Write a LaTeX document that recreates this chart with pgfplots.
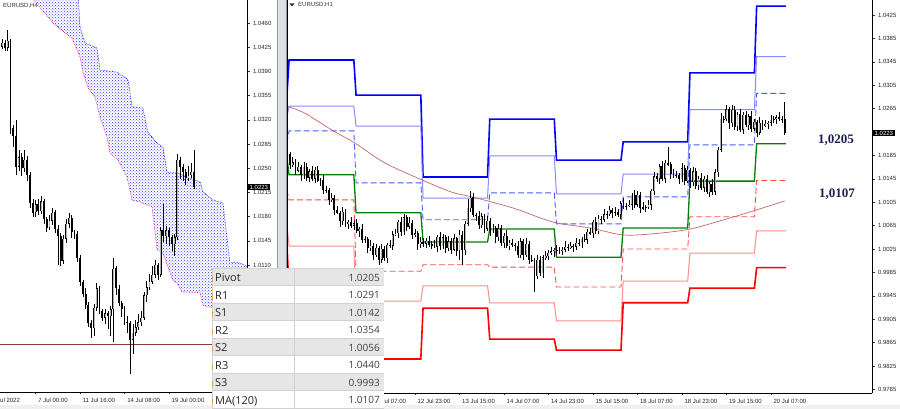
\documentclass[border=0pt]{standalone}
\usepackage{fontspec}
\setmainfont{Liberation Sans}
\newfontfamily\tabfont{Open Sans}
\newfontfamily\lblfont{Liberation Serif}
\usepackage{pgfplots}
\pgfplotsset{compat=1.18}
\usepackage{pgfplotstable}
\usetikzlibrary{patterns}

\definecolor{rthree}{HTML}{0000FF}
\definecolor{rtwo}{HTML}{8A8AFF}
\definecolor{rone}{HTML}{4A5CFF}
\definecolor{pivgreen}{HTML}{008000}
\definecolor{sone}{HTML}{FF4F4F}
\definecolor{stwo}{HTML}{FF8C8C}
\definecolor{sthree}{HTML}{FF0000}
\definecolor{macol}{HTML}{C06A6A}
\definecolor{tabgray}{HTML}{E6E6E6}
\definecolor{tabline}{HTML}{D2D2D2}
\definecolor{navy}{HTML}{1C1C52}
\definecolor{sepbar}{HTML}{DCE1E8}
\definecolor{hline}{HTML}{8B3A3A}
\definecolor{tabmark}{HTML}{D6A85E}

% H4 candles, left panel (x = bar index, 0 = 19 Jul 00:00)
\pgfplotstableread{
x o h l c
-61 1.0430 1.0435 1.0420 1.0426
-60 1.0426 1.0437 1.0422 1.0431
-59 1.0431 1.0436 1.0419 1.0424
-58 1.0424 1.0450 1.0420 1.0434
-57 1.0434 1.0437 1.0300 1.0308
-56 1.0308 1.0312 1.0281 1.0296
-55 1.0296 1.0320 1.0240 1.0252
-54 1.0252 1.0276 1.0246 1.0266
-53 1.0266 1.0272 1.0238 1.0250
-52 1.0250 1.0276 1.0245 1.0262
-51 1.0262 1.0268 1.0232 1.0240
-50 1.0240 1.0244 1.0192 1.0200
-49 1.0200 1.0206 1.0180 1.0186
-48 1.0186 1.0204 1.0180 1.0198
-47 1.0198 1.0206 1.0182 1.0188
-46 1.0188 1.0210 1.0184 1.0202
-45 1.0202 1.0206 1.0170 1.0176
-44 1.0176 1.0180 1.0158 1.0164
-43 1.0164 1.0182 1.0160 1.0174
-42 1.0174 1.0192 1.0168 1.0186
-41 1.0186 1.0190 1.0156 1.0162
-40 1.0162 1.0168 1.0110 1.0152
-39 1.0152 1.0156 1.0108 1.0116
-38 1.0116 1.0154 1.0112 1.0148
-37 1.0148 1.0176 1.0142 1.0170
-36 1.0170 1.0186 1.0164 1.0178
-35 1.0178 1.0182 1.0149 1.0158
-34 1.0158 1.0161 1.0147 1.0155
-33 1.0155 1.0159 1.0115 1.0120
-32 1.0120 1.0124 1.0080 1.0085
-31 1.0085 1.0089 1.0063 1.0068
-30 1.0068 1.0077 1.0047 1.0052
-29 1.0052 1.0056 1.0021 1.0026
-28 1.0026 1.0030 1.0004 1.0019
-27 1.0019 1.0053 1.0007 1.0048
-26 1.0048 1.0084 1.0044 1.0076
-25 1.0076 1.0080 1.0039 1.0044
-24 1.0044 1.0046 1.0029 1.0034
-23 1.0034 1.0046 1.0025 1.0040
-22 1.0040 1.0044 1.0018 1.0036
-21 1.0036 1.0051 1.0008 1.0046
-20 1.0046 1.0120 0.9998 1.0105
-19 1.0105 1.0108 1.0067 1.0076
-18 1.0076 1.0081 1.0050 1.0055
-17 1.0055 1.0058 1.0035 1.0046
-16 1.0046 1.0051 1.0023 1.0028
-15 1.0028 1.0037 1.0012 1.0026
-14 1.0026 1.0029 0.9952 1.0002
-13 1.0002 1.0025 0.9982 1.0012
-12 1.0012 1.0031 1.0008 1.0020
-11 1.0020 1.0039 1.0016 1.0027
-10 1.0027 1.0043 1.0022 1.0034
-9 1.0034 1.0071 1.0030 1.0066
-8 1.0066 1.0087 1.0056 1.0078
-7 1.0078 1.0097 1.0074 1.0086
-6 1.0086 1.0109 1.0082 1.0096
-5 1.0096 1.0117 1.0092 1.0110
-4 1.0110 1.0113 1.0088 1.0096
-3 1.0096 1.0165 1.0092 1.0160
-2 1.0160 1.0199 1.0143 1.0152
-1 1.0152 1.0166 1.0141 1.0160
0 1.0160 1.0164 1.0137 1.0150
1 1.0150 1.0154 1.0131 1.0140
2 1.0140 1.0155 1.0123 1.0150
3 1.0150 1.0271 1.0146 1.0262
4 1.0262 1.0266 1.0235 1.0252
5 1.0252 1.0256 1.0231 1.0244
6 1.0244 1.0249 1.0225 1.0236
7 1.0236 1.0253 1.0232 1.0240
8 1.0240 1.0257 1.0236 1.0245
9 1.0245 1.0276 1.0220 1.0223
}\hfour

% H1 candles, right panel (x = bar index, 0 = 12 Jul 07:00)
\pgfplotstableread{
x o h l c
-30 1.0178 1.0193 1.0173 1.0187
-29 1.0187 1.0191 1.0161 1.0169
-28 1.0169 1.0182 1.0165 1.0173
-27 1.0173 1.0178 1.0152 1.0159
-26 1.0159 1.0173 1.0156 1.0166
-25 1.0166 1.0169 1.0142 1.0151
-24 1.0151 1.0174 1.0145 1.0166
-23 1.0166 1.0172 1.0142 1.0147
-22 1.0147 1.0162 1.0139 1.0158
-21 1.0158 1.0167 1.0141 1.0145
-20 1.0145 1.0165 1.0138 1.0160
-19 1.0160 1.0167 1.0139 1.0142
-18 1.0142 1.0146 1.0133 1.0143
-17 1.0143 1.0151 1.0119 1.0125
-16 1.0125 1.0132 1.0120 1.0126
-15 1.0126 1.0130 1.0101 1.0109
-14 1.0109 1.0121 1.0105 1.0112
-13 1.0112 1.0117 1.0084 1.0091
-12 1.0091 1.0098 1.0084 1.0087
-11 1.0087 1.0090 1.0063 1.0072
-10 1.0072 1.0096 1.0066 1.0088
-9 1.0088 1.0094 1.0063 1.0068
-8 1.0068 1.0075 1.0060 1.0071
-7 1.0071 1.0080 1.0061 1.0065
-6 1.0065 1.0074 1.0058 1.0069
-5 1.0069 1.0076 1.0052 1.0055
-4 1.0055 1.0063 1.0046 1.0060
-3 1.0060 1.0068 1.0035 1.0041
-2 1.0041 1.0048 1.0036 1.0042
-1 1.0042 1.0046 1.0018 1.0026
0 1.0026 1.0040 1.0022 1.0031
1 1.0031 1.0036 1.0007 1.0014
2 1.0014 1.0034 1.0011 1.0027
3 1.0027 1.0030 0.9998 1.0007
4 1.0007 1.0033 1.0001 1.0025
5 1.0025 1.0031 1.0004 1.0009
6 1.0009 1.0036 1.0001 1.0032
7 1.0032 1.0041 1.0027 1.0031
8 1.0031 1.0055 1.0024 1.0050
9 1.0050 1.0059 1.0047 1.0052
10 1.0052 1.0074 1.0043 1.0071
11 1.0071 1.0079 1.0048 1.0054
12 1.0054 1.0085 1.0049 1.0079
13 1.0079 1.0083 1.0055 1.0063
14 1.0063 1.0079 1.0059 1.0070
15 1.0070 1.0075 1.0042 1.0049
16 1.0049 1.0059 1.0046 1.0052
17 1.0052 1.0055 1.0024 1.0033
18 1.0033 1.0045 1.0027 1.0037
19 1.0037 1.0043 1.0029 1.0034
20 1.0034 1.0043 1.0026 1.0039
21 1.0039 1.0048 1.0028 1.0032
22 1.0032 1.0038 1.0025 1.0033
23 1.0033 1.0040 1.0026 1.0029
24 1.0029 1.0049 1.0020 1.0046
25 1.0046 1.0054 1.0024 1.0030
26 1.0030 1.0051 1.0025 1.0045
27 1.0045 1.0049 1.0018 1.0026
28 1.0026 1.0047 1.0022 1.0038
29 1.0038 1.0043 1.0017 1.0024
30 1.0024 1.0050 1.0021 1.0043
31 1.0043 1.0046 1.0013 1.0022
32 1.0022 1.0057 1.0006 1.0049
33 1.0049 1.0055 0.9998 1.0023
34 1.0023 1.0072 1.0015 1.0068
35 1.0068 1.0110 1.0064 1.0095
36 1.0095 1.0125 1.0088 1.0113
37 1.0113 1.0120 1.0080 1.0083
38 1.0083 1.0086 1.0073 1.0082
39 1.0082 1.0090 1.0060 1.0066
40 1.0066 1.0087 1.0061 1.0081
41 1.0081 1.0085 1.0052 1.0060
42 1.0060 1.0082 1.0056 1.0073
43 1.0073 1.0078 1.0048 1.0055
44 1.0055 1.0068 1.0052 1.0061
45 1.0061 1.0064 1.0036 1.0045
46 1.0045 1.0068 1.0039 1.0060
47 1.0060 1.0066 1.0030 1.0035
48 1.0035 1.0052 1.0027 1.0048
49 1.0048 1.0057 1.0026 1.0030
50 1.0030 1.0040 1.0023 1.0035
51 1.0035 1.0042 1.0029 1.0032
52 1.0032 1.0035 1.0022 1.0031
53 1.0031 1.0039 1.0009 1.0015
54 1.0015 1.0044 1.0010 1.0038
55 1.0038 1.0042 1.0007 1.0015
56 1.0015 1.0043 1.0011 1.0034
57 1.0034 1.0039 1.0000 1.0007
58 1.0007 1.0014 1.0003 1.0006
59 1.0006 1.0009 0.9952 0.9979
60 0.9979 1.0015 0.9973 1.0007
61 1.0007 1.0013 0.9979 0.9984
62 0.9984 1.0015 0.9976 1.0011
63 1.0011 1.0022 1.0007 1.0013
64 1.0013 1.0023 1.0006 1.0018
65 1.0018 1.0028 1.0015 1.0021
66 1.0021 1.0027 1.0012 1.0024
67 1.0024 1.0032 1.0015 1.0021
68 1.0021 1.0028 1.0016 1.0022
69 1.0022 1.0028 1.0014 1.0024
70 1.0024 1.0038 1.0020 1.0029
71 1.0029 1.0034 1.0021 1.0028
72 1.0028 1.0037 1.0025 1.0030
73 1.0030 1.0033 1.0020 1.0029
74 1.0029 1.0044 1.0023 1.0036
75 1.0036 1.0042 1.0030 1.0035
76 1.0035 1.0046 1.0027 1.0042
77 1.0042 1.0051 1.0037 1.0041
78 1.0041 1.0059 1.0034 1.0054
79 1.0054 1.0061 1.0049 1.0052
80 1.0052 1.0074 1.0043 1.0071
81 1.0071 1.0079 1.0050 1.0056
82 1.0056 1.0083 1.0051 1.0077
83 1.0077 1.0081 1.0067 1.0075
84 1.0075 1.0093 1.0071 1.0084
85 1.0084 1.0090 1.0077 1.0085
86 1.0085 1.0099 1.0082 1.0092
87 1.0092 1.0095 1.0078 1.0087
88 1.0087 1.0096 1.0081 1.0088
89 1.0088 1.0094 1.0079 1.0084
90 1.0084 1.0107 1.0076 1.0103
91 1.0103 1.0112 1.0094 1.0098
92 1.0098 1.0104 1.0091 1.0099
93 1.0099 1.0108 1.0096 1.0101
94 1.0101 1.0121 1.0092 1.0118
95 1.0118 1.0126 1.0095 1.0101
96 1.0101 1.0124 1.0096 1.0118
97 1.0118 1.0122 1.0087 1.0095
98 1.0095 1.0105 1.0091 1.0096
99 1.0096 1.0101 1.0089 1.0096
100 1.0096 1.0108 1.0093 1.0101
101 1.0101 1.0127 1.0092 1.0124
102 1.0124 1.0157 1.0118 1.0149
103 1.0149 1.0155 1.0140 1.0145
104 1.0145 1.0170 1.0137 1.0166
105 1.0166 1.0175 1.0141 1.0145
106 1.0145 1.0177 1.0138 1.0172
107 1.0172 1.0199 1.0167 1.0170
108 1.0170 1.0173 1.0145 1.0154
109 1.0154 1.0162 1.0146 1.0152
110 1.0152 1.0158 1.0146 1.0151
111 1.0151 1.0155 1.0136 1.0144
112 1.0144 1.0172 1.0140 1.0163
113 1.0163 1.0168 1.0134 1.0141
114 1.0141 1.0167 1.0138 1.0160
115 1.0160 1.0163 1.0130 1.0139
116 1.0139 1.0166 1.0133 1.0158
117 1.0158 1.0164 1.0128 1.0133
118 1.0133 1.0150 1.0125 1.0146
119 1.0146 1.0155 1.0126 1.0130
120 1.0130 1.0150 1.0123 1.0145
121 1.0145 1.0152 1.0119 1.0122
122 1.0122 1.0140 1.0113 1.0137
123 1.0137 1.0145 1.0117 1.0123
124 1.0123 1.0162 1.0118 1.0156
125 1.0156 1.0199 1.0148 1.0195
126 1.0195 1.0257 1.0191 1.0248
127 1.0248 1.0253 1.0240 1.0247
128 1.0247 1.0272 1.0244 1.0264
129 1.0264 1.0267 1.0231 1.0240
130 1.0240 1.0271 1.0234 1.0263
131 1.0263 1.0269 1.0229 1.0234
132 1.0234 1.0259 1.0226 1.0255
133 1.0255 1.0264 1.0225 1.0229
134 1.0229 1.0259 1.0222 1.0254
135 1.0254 1.0261 1.0234 1.0237
136 1.0237 1.0255 1.0228 1.0252
137 1.0252 1.0260 1.0225 1.0231
138 1.0231 1.0248 1.0226 1.0242
139 1.0242 1.0246 1.0216 1.0224
140 1.0224 1.0250 1.0220 1.0241
141 1.0241 1.0246 1.0229 1.0236
142 1.0236 1.0246 1.0233 1.0239
143 1.0239 1.0244 1.0230 1.0241
144 1.0241 1.0254 1.0235 1.0246
145 1.0246 1.0253 1.0241 1.0247
146 1.0247 1.0254 1.0239 1.0250
147 1.0250 1.0259 1.0243 1.0247
148 1.0247 1.0252 1.0240 1.0247
149 1.0247 1.0276 1.0220 1.0223
}\hone

% daily pivot levels (step lines)
\pgfplotstableread{
x R3 R2 R1 P S1 S2 S3
-30.1 1.0285 1.0251 1.0206 1.0182 1.0126 1.0069 1.0040
-29.3 1.0348 1.0269 1.0227 1.0152 1.0109 1.0030 0.9952
-6.0 1.0348 1.0269 1.0227 1.0152 1.0109 1.0030 0.9952
-5.2 1.0288 1.0235 1.0138 1.0087 0.9987 0.9936 0.9837
18.1 1.0288 1.0235 1.0138 1.0087 0.9987 0.9936 0.9837
18.9 1.0148 1.0112 1.0075 1.0037 0.9998 0.9962 0.9924
42.1 1.0148 1.0112 1.0075 1.0037 0.9998 0.9962 0.9924
42.9 1.0247 1.0184 1.0121 1.0059 0.9994 0.9933 0.9871
66.1 1.0247 1.0184 1.0121 1.0059 0.9994 0.9933 0.9871
66.9 1.0177 1.0119 1.0068 1.0011 0.9960 0.9902 0.9852
90.1 1.0177 1.0119 1.0068 1.0011 0.9960 0.9902 0.9852
90.9 1.0208 1.0153 1.0114 1.0061 1.0025 0.9970 0.9933
114.1 1.0208 1.0153 1.0114 1.0061 1.0025 0.9970 0.9933
114.9 1.0326 1.0263 1.0203 1.0141 1.0080 1.0018 0.9958
138.1 1.0326 1.0263 1.0203 1.0141 1.0080 1.0018 0.9958
138.9 1.0440 1.0354 1.0291 1.0205 1.0142 1.0056 0.9993
149.4 1.0440 1.0354 1.0291 1.0205 1.0142 1.0056 0.9993
}\levels

% candles: wick, then bear bodies, then bull bodies (outline + light core)
\newcommand{\candles}[1]{%
  \addplot[draw=none, mark=none, forget plot,
    error bars/.cd, y dir=both, y explicit, error mark=none,
    error bar style={draw=black, line width=0.55pt}]
    table[x=x, y expr={(\thisrow{h}+\thisrow{l})/2}, y error expr={(\thisrow{h}-\thisrow{l})/2}] {#1};
  \addplot[draw=none, mark=none, forget plot,
    restrict expr to domain={\thisrow{o}-\thisrow{c}}{0:1},
    error bars/.cd, y dir=both, y explicit, error mark=none,
    error bar style={draw=black, line width=1.9pt}]
    table[x=x, y expr={(\thisrow{o}+\thisrow{c})/2}, y error expr={max(abs(\thisrow{o}-\thisrow{c})/2,0.00004)}] {#1};
  \addplot[draw=none, mark=none, forget plot,
    restrict expr to domain={\thisrow{c}-\thisrow{o}}{0.00001:1},
    error bars/.cd, y dir=both, y explicit, error mark=none,
    error bar style={draw=black, line width=1.9pt}]
    table[x=x, y expr={(\thisrow{o}+\thisrow{c})/2}, y error expr={abs(\thisrow{o}-\thisrow{c})/2}] {#1};
  \addplot[draw=none, mark=none, forget plot,
    restrict expr to domain={\thisrow{c}-\thisrow{o}}{0.00001:1},
    error bars/.cd, y dir=both, y explicit, error mark=none,
    error bar style={draw=black!30, line width=0.8pt}]
    table[x=x, y expr={(\thisrow{o}+\thisrow{c})/2}, y error expr={max(abs(\thisrow{o}-\thisrow{c})/2-0.00006,0)}] {#1};
}

\pgfplotsset{
  mtaxis/.style={
    scale only axis,
    axis x line*=bottom, axis y line*=right,
    axis line style={black, line width=0.6pt},
    tick align=outside, major tick length=2.5pt,
    tick style={black!80, line width=0.4pt},
    tick label style={font=\fontsize{6}{7}\selectfont, text=black!85},
    xticklabel style={anchor=north west, xshift=-0.8pt},
    /pgf/number format/fixed,
    /pgf/number format/fixed zerofill,
    /pgf/number format/precision=4,
    /pgf/number format/assume math mode=true,
  }
}

\begin{document}
\begin{tikzpicture}[x=1pt, y=1pt]
\useasboundingbox (0,0) rectangle (900,409);
\clip (0,0) rectangle (900,409);
\fill[white] (0,0) rectangle (900,409);

% ---------- left panel: EURUSD H4 ----------
\begin{axis}[mtaxis,
  at={(0pt,17pt)}, anchor=south west,
  width=247pt, height=392pt,
  xmin=-60.79, xmax=28.06, ymin=0.99263, ymax=1.04933,
  xtick={-48,-32,-16,0},
  xticklabels={7 Jul 00:00, 11 Jul 16:00, 14 Jul 08:00, 19 Jul 00:00},
  ytick={0.9935,0.9970,1.0005,1.0040,1.0075,1.0110,1.0145,1.0180,1.0215,1.0250,1.0285,1.0320,1.0355,1.0390,1.0425,1.0460},
]
% ichimoku cloud
\addplot[draw=none, pattern=crosshatch dots, pattern color=blue!80, forget plot] coordinates {
(-50,1.0522) (-32.7,1.0500) (-32.0,1.0454) (-30.2,1.0431) (-25.9,1.0424) (-24.8,1.0392)
(-18.7,1.0389) (-14.7,1.0378) (-13.3,1.0339) (-9.4,1.0337) (-7.6,1.0302) (-4.3,1.0286)
(-2.2,1.0281) (-0.7,1.0244) (2.9,1.0243) (11.2,1.0230) (12.2,1.0216) (15.8,1.0204)
(19.4,1.0200) (21.9,1.0114) (25.5,1.0113) (29,1.0106)
(29,1.0031) (14.7,1.0049) (12.2,1.0052) (11.2,1.0070) (4.7,1.0071) (2.9,1.0084)
(1.4,1.0088) (-0.4,1.0107) (-2.2,1.0127) (-4.3,1.0132) (-6.1,1.0194) (-10.4,1.0201)
(-13.3,1.0204) (-15.1,1.0237) (-18.3,1.0262) (-21.2,1.0272) (-22.3,1.0295) (-24.8,1.0324)
(-26.6,1.0353) (-29.1,1.0366) (-30.9,1.0388) (-32,1.0411) (-34.9,1.0438) (-41.7,1.0460)
(-46.4,1.0482) (-50,1.0500)} -- cycle;
\addplot[blue, densely dotted, line width=0.6pt, forget plot] coordinates {
(-32.7,1.0500) (-32.0,1.0454) (-30.2,1.0431) (-25.9,1.0424) (-24.8,1.0392)
(-18.7,1.0389) (-14.7,1.0378) (-13.3,1.0339) (-9.4,1.0337) (-7.6,1.0302) (-4.3,1.0286)
(-2.2,1.0281) (-0.7,1.0244) (2.9,1.0243) (11.2,1.0230) (12.2,1.0216) (15.8,1.0204)
(19.4,1.0200) (21.9,1.0114) (25.5,1.0113) (29,1.0106)};
\addplot[magenta, densely dotted, line width=0.6pt, forget plot] coordinates {
(29,1.0031) (14.7,1.0049) (12.2,1.0052) (11.2,1.0070) (4.7,1.0071) (2.9,1.0084)
(1.4,1.0088) (-0.4,1.0107) (-2.2,1.0127) (-4.3,1.0132) (-6.1,1.0194) (-10.4,1.0201)
(-13.3,1.0204) (-15.1,1.0237) (-18.3,1.0262) (-21.2,1.0272) (-22.3,1.0295) (-24.8,1.0324)
(-26.6,1.0353) (-29.1,1.0366) (-30.9,1.0388) (-32,1.0411) (-34.9,1.0438) (-41.7,1.0460)
(-46.4,1.0482) (-50,1.0500)};
\addplot[hline, line width=0.6pt, forget plot] coordinates {(-61,0.9996) (28.1,0.9996)};
\candles{\hfour}
\end{axis}

% ---------- right panel: EURUSD H1 ----------
\begin{axis}[mtaxis,
  at={(287pt,16pt)}, anchor=south west,
  width=585pt, height=393pt,
  xmin=-30.04, xmax=180.4, ymin=0.97788, ymax=1.04506,
  xtick={0,16,32,48,64,80,96,112,128,144},
  xticklabels={\hphantom{12 }Jul 07:00, 12 Jul 23:00, 13 Jul 15:00, 14 Jul 07:00, 14 Jul 23:00, 15 Jul 15:00, 18 Jul 07:00, 18 Jul 23:00, 19 Jul 15:00, 20 Jul 07:00},
  ytick={0.9785,0.9825,0.9865,0.9905,0.9945,0.9985,1.0025,1.0065,1.0105,1.0145,1.0185,1.0265,1.0305,1.0345,1.0385,1.0425},
]
\addplot[rthree, line width=1.6pt] table[x=x, y=R3] {\levels};
\addplot[rtwo, line width=1pt] table[x=x, y=R2] {\levels};
\addplot[rone, line width=0.9pt, dash pattern=on 6pt off 3pt] table[x=x, y=R1] {\levels};
\addplot[pivgreen, line width=1.3pt] table[x=x, y=P] {\levels};
\addplot[sone, line width=0.9pt, dash pattern=on 6pt off 3pt] table[x=x, y=S1] {\levels};
\addplot[stwo, line width=1pt] table[x=x, y=S2] {\levels};
\addplot[sthree, line width=1.6pt] table[x=x, y=S3] {\levels};
% MA(120)
\addplot[macol, line width=0.7pt, smooth] coordinates {
(-30.04,1.0269) (-23.6,1.0257) (-13.8,1.0228) (-5.6,1.0206) (5.2,1.0172) (18.5,1.0143)
(29.3,1.0122) (36.5,1.0114) (51.3,1.0095) (65.6,1.0071) (78.9,1.0061) (90.8,1.0049)
(101.6,1.0051) (114.9,1.0059) (129.3,1.0078) (139,1.0092) (149,1.0107)};
\candles{\hone}
\end{axis}

% window frame details
\fill[sepbar] (277,0) rectangle (286,409);
\draw[black!40, line width=0.4pt] (277.2,0) -- (277.2,409) (285.8,0) -- (285.8,409);
\draw[black, line width=0.6pt] (287,16) -- (287,409);
\fill[black!6] (0,0) rectangle (900,3.5);

% titles
\node[anchor=west, inner sep=0pt, font=\fontsize{6}{7}\selectfont, text=black!80] at (3,403) {EURUSD,H4};
\fill[black!80] (289.5,405.5) -- (294.5,405.5) -- (292,402.5) -- cycle;
\node[anchor=west, inner sep=0pt, font=\fontsize{6}{7}\selectfont, text=black!80] at (298,404) {EURUSD,H1};
\node[anchor=north west, inner sep=0pt, font=\fontsize{6}{7}\selectfont, text=black!85] at (-8,11) {4 Jul 2022};

% current price boxes
\node[anchor=west, fill=black, text=white, inner xsep=2pt, inner ysep=1pt, font=\fontsize{6}{7}\selectfont] at (247.5,222) {1.0223};
\node[anchor=west, fill=black, text=white, inner xsep=2pt, inner ysep=1pt, font=\fontsize{6}{7}\selectfont] at (872.5,276) {1.0223};

% level annotations
\node[font=\lblfont\bfseries\fontsize{13}{14}\selectfont, text=navy] at (836,269) {1,0205};
\node[font=\lblfont\bfseries\fontsize{13}{14}\selectfont, text=navy] at (837,215) {1,0107};

% pivot table overlay
\fill[white] (212,1) rectangle (384,141);
\foreach \r in {0,2,4,6} \fill[tabgray] (212,{141-17.5*\r}) rectangle (384,{141-17.5*(\r+1)});
\foreach \r in {0,...,8} \draw[tabline, line width=0.5pt] (212,{141-17.5*\r}) -- (384,{141-17.5*\r});
\draw[tabline, line width=0.6pt] (294,141) -- (294,1) (212,141) -- (212,1);
\foreach \n/\v [count=\r from 0] in {Pivot/1.0205,R1/1.0291,S1/1.0142,R2/1.0354,S2/1.0056,R3/1.0440,S3/0.9993,MA(120)/1.0107} {
  \fill[tabmark] (212,{141-17.5*(\r+1)+3}) rectangle (213.4,{141-17.5*(\r+1)+9});
  \node[anchor=base west, inner sep=0pt, font=\tabfont\fontsize{11}{12}\selectfont, text=black!85] at (215,{141-17.5*(\r+1)+3.8}) {\n};
  \node[anchor=base east, inner sep=0pt, font=\tabfont\fontsize{10}{12}\selectfont, text=black!75] at (380,{141-17.5*(\r+1)+4}) {\v};
}
\end{tikzpicture}
\end{document}
